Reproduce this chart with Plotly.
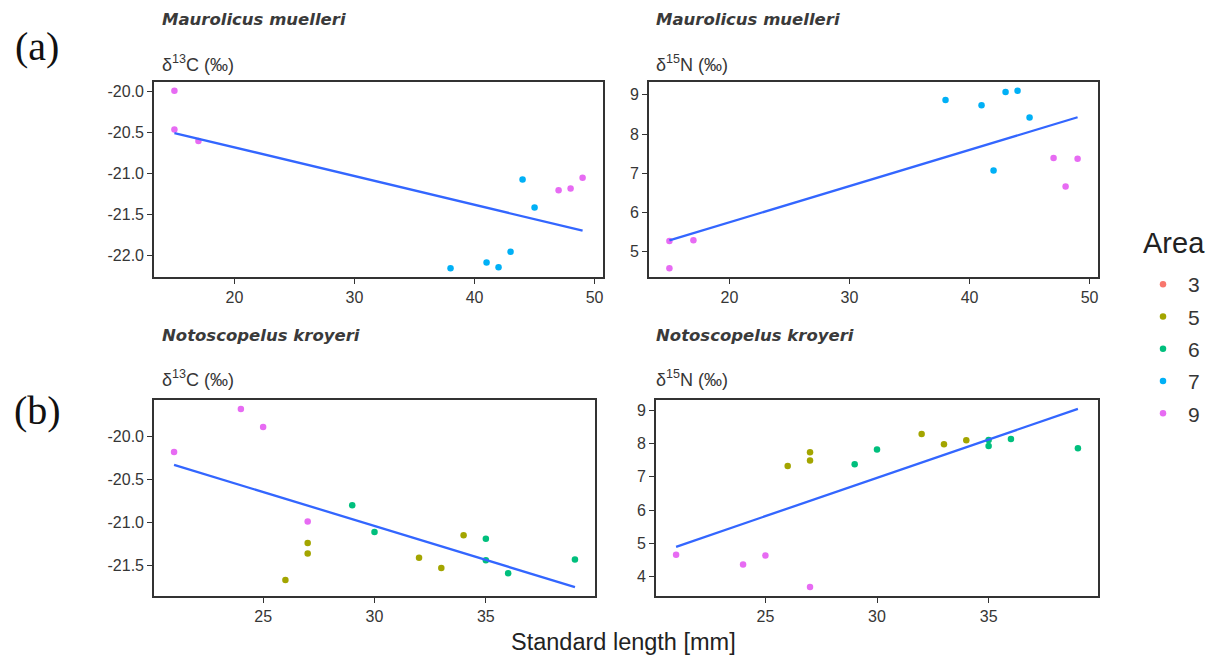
import numpy as np
import plotly.graph_objects as go

# ---------------- data ----------------
AREAS = ["3", "5", "6", "7", "9"]
AREA_COLORS = ["#F8766D", "#A3A500", "#00BF7D", "#00B0F6", "#E76BF3"]

# Maurolicus muelleri
MM_LEN = [15, 15, 17, 38, 41, 42, 43, 44, 45, 47, 48, 49]
MM_AREA = ["9", "9", "9", "7", "7", "7", "7", "7", "7", "9", "9", "9"]
MM_C13 = [-19.99, -20.46, -20.60, -22.15, -22.08, -22.14, -21.95, -21.07, -21.41, -21.20, -21.18, -21.05]
MM_N15 = [5.27, 4.58, 5.29, 8.87, 8.73, 7.07, 9.07, 9.10, 8.42, 7.39, 6.66, 7.37]

# Notoscopelus kroyeri
NK_LEN = [21, 24, 25, 27, 26, 27, 27, 32, 33, 34, 29, 30, 35, 35, 36, 39]
NK_AREA = ["9", "9", "9", "9", "5", "5", "5", "5", "5", "5", "6", "6", "6", "6", "6", "6"]
NK_C13 = [-20.18, -19.68, -19.89, -20.99, -21.67, -21.24, -21.36, -21.41, -21.53, -21.15,
          -20.80, -21.11, -21.19, -21.44, -21.59, -21.43]
NK_N15 = [4.66, 4.37, 4.64, 3.69, 7.33, 7.74, 7.49, 8.29, 7.98, 8.10,
          7.38, 7.82, 8.11, 7.93, 8.14, 7.86]

X_TICKS_TOP = [20, 30, 40, 50]
X_TICKS_BOT = [25, 30, 35]
Y_TICKS_MM_C = [-20.0, -20.5, -21.0, -21.5, -22.0]
Y_TICKS_MM_N = [5, 6, 7, 8, 9]
Y_TICKS_NK_C = [-20.0, -20.5, -21.0, -21.5]
Y_TICKS_NK_N = [4, 5, 6, 7, 8, 9]

W, H = 1213, 660
def px_x(p): return p / W
def px_y(p): return 1 - p / H

panels = [
    dict(x=MM_LEN, y=MM_C13, area=MM_AREA, xt=X_TICKS_TOP, yt=Y_TICKS_MM_C, fmt="{:.1f}",
         dom_x=(154, 603), dom_y=(82, 277)),
    dict(x=MM_LEN, y=MM_N15, area=MM_AREA, xt=X_TICKS_TOP, yt=Y_TICKS_MM_N, fmt="{:d}",
         dom_x=(649, 1098), dom_y=(82, 277)),
    dict(x=NK_LEN, y=NK_C13, area=NK_AREA, xt=X_TICKS_BOT, yt=Y_TICKS_NK_C, fmt="{:.1f}",
         dom_x=(154, 595), dom_y=(400, 596)),
    dict(x=NK_LEN, y=NK_N15, area=NK_AREA, xt=X_TICKS_BOT, yt=Y_TICKS_NK_N, fmt="{:d}",
         dom_x=(656, 1098), dom_y=(400, 596)),
]

fig = go.Figure()
TXT = "#363636"
MSIZE = 6.5

# Legend entries (one per area, in order), drawn without data
for r, (a, c) in enumerate(zip(AREAS, AREA_COLORS)):
    fig.add_trace(go.Scatter(x=[None], y=[None], mode="markers",
                             marker=dict(color=c, size=MSIZE),
                             name=a, legendgroup=a, showlegend=True, legendrank=r + 1))

for i, p in enumerate(panels, start=1):
    xa = "x" if i == 1 else f"x{i}"
    ya = "y" if i == 1 else f"y{i}"
    x = np.array(p["x"], float)
    y = np.array(p["y"], float)
    slope, icpt = np.polyfit(x, y, 1)
    xf = np.array([x.min(), x.max()])
    yf = slope * xf + icpt

    for a, c in zip(AREAS, AREA_COLORS):
        idx = [k for k, aa in enumerate(p["area"]) if aa == a]
        if idx:
            fig.add_trace(go.Scatter(
                x=[p["x"][k] for k in idx], y=[p["y"][k] for k in idx],
                mode="markers", marker=dict(color=c, size=MSIZE),
                name=a, legendgroup=a, showlegend=False, xaxis=xa, yaxis=ya))
    fig.add_trace(go.Scatter(x=xf, y=yf, mode="lines", line=dict(color="#3366FF", width=2.3),
                             showlegend=False, xaxis=xa, yaxis=ya, hoverinfo="skip"))

    xr = x.max() - x.min()
    ally = np.concatenate([y, yf])
    yr = ally.max() - ally.min()
    axcommon = dict(showline=True, mirror=True, linecolor="#333333", linewidth=1.6,
                    ticks="outside", ticklen=5, tickwidth=1.2, tickcolor="#333333",
                    showgrid=False, zeroline=False,
                    tickfont=dict(family="Liberation Sans, Arial", size=16, color=TXT))
    fig.layout[("xaxis" if i == 1 else f"xaxis{i}")] = dict(
        domain=[px_x(p["dom_x"][0]), px_x(p["dom_x"][1])],
        range=[x.min() - 0.05 * xr, x.max() + 0.05 * xr],
        anchor=ya, tickvals=p["xt"], ticktext=[str(v) for v in p["xt"]], **axcommon)
    fig.layout[("yaxis" if i == 1 else f"yaxis{i}")] = dict(
        domain=[px_y(p["dom_y"][1]), px_y(p["dom_y"][0])],
        range=[ally.min() - 0.05 * yr, ally.max() + 0.05 * yr],
        anchor=xa, tickvals=p["yt"],
        ticktext=[p["fmt"].format(v if p["fmt"] == "{:.1f}" else int(v)) for v in p["yt"]],
        **axcommon)

ann = []
def add_text(text, xp, yp, size, family="Liberation Sans, Arial", italic=False, xanchor="left", color=TXT, bold=False):
    t = text
    if italic:
        t = f"<i>{t}</i>"
    if bold:
        t = f"<b>{t}</b>"
    ann.append(dict(text=t, x=px_x(xp), y=px_y(yp), xref="paper", yref="paper",
                    xanchor=xanchor, yanchor="middle", showarrow=False,
                    font=dict(family=family, size=size, color=color)))

for xl, yl, sp, iso in [(160, 20, "Maurolicus muelleri", "δ<sup>13</sup>C (‰)"),
                        (654, 20, "Maurolicus muelleri", "δ<sup>15</sup>N (‰)"),
                        (160, 335, "Notoscopelus kroyeri", "δ<sup>13</sup>C (‰)"),
                        (654, 335, "Notoscopelus kroyeri", "δ<sup>15</sup>N (‰)")]:
    add_text(sp, xl, yl, 16.5, family="DejaVu Sans", italic=True, bold=True, color="#3a3a3a")
    add_text(iso, xl, yl + 43, 18)

add_text("(a)", 37, 46, 40, family="Liberation Serif, Times New Roman", xanchor="center", color="#111111")
add_text("(b)", 37, 410, 40, family="Liberation Serif, Times New Roman", xanchor="center", color="#111111")
add_text("Standard length [mm]", 623, 642, 23.5, xanchor="center", color="#222222")
add_text("Area", 1141, 243, 29, xanchor="left", color="#222222")

fig.update_layout(
    width=W, height=H, margin=dict(l=0, r=0, t=0, b=0),
    paper_bgcolor="white", plot_bgcolor="white",
    annotations=ann,
    showlegend=True,
    legend=dict(x=px_x(1138), y=px_y(264), xanchor="left", yanchor="top",
                font=dict(family="Liberation Sans, Arial", size=21, color=TXT),
                traceorder="grouped", tracegroupgap=2, itemsizing="trace", itemwidth=40,
                bgcolor="rgba(0,0,0,0)"),
)

fig.write_html("out.html")
